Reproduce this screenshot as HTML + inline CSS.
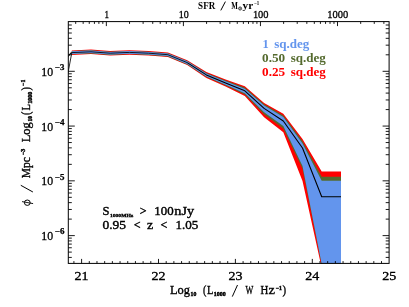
<!DOCTYPE html><html><head><meta charset="utf-8"><style>html,body{margin:0;padding:0;background:#fff}svg{display:block}text{font-family:"Liberation Serif",serif;fill:#000}</style></head><body>
<svg width="409" height="307" viewBox="0 0 409 307">
<rect width="409" height="307" fill="#fff"/>
<filter id="bl" x="0" y="0" width="409" height="307" filterUnits="userSpaceOnUse"><feGaussianBlur stdDeviation="0.45"/></filter><g filter="url(#bl)">
<defs><clipPath id="c"><rect x="68.3" y="21.6" width="320.8" height="241.8"/></clipPath></defs>
<g clip-path="url(#c)">
<polygon fill="#ff0000" points="71.8,50.5 91.0,49.6 110.2,51.1 129.5,50.2 148.7,51.1 167.9,52.6 187.2,60.3 206.4,72.1 225.6,79.6 244.8,86.3 264.1,103.0 283.3,113.8 302.5,139.0 321.7,171.6 341.0,171.6 341.0,268.0 321.7,268.0 302.5,181.0 283.3,132.2 264.1,117.2 244.8,96.0 225.6,86.6 206.4,77.9 187.2,65.1 167.9,57.1 148.7,55.6 129.5,54.8 110.2,55.6 91.0,54.1 71.8,55.0"/>
<polygon fill="#556b2f" points="71.8,51.1 91.0,50.2 110.2,51.7 129.5,50.9 148.7,51.7 167.9,53.2 187.2,60.9 206.4,72.9 225.6,80.6 244.8,87.6 264.1,104.2 283.3,115.5 302.5,141.3 321.7,176.7 341.0,176.7 341.0,265.0 321.7,265.0 302.5,168.5 283.3,128.5 264.1,114.2 244.8,94.5 225.6,85.5 206.4,77.0 187.2,64.4 167.9,56.4 148.7,54.9 129.5,54.0 110.2,54.9 91.0,53.4 71.8,54.2"/>
<polygon fill="#6495ed" points="71.8,51.3 91.0,50.5 110.2,51.9 129.5,51.1 148.7,51.9 167.9,53.4 187.2,61.2 206.4,73.4 225.6,81.3 244.8,88.8 264.1,105.4 283.3,117.1 302.5,143.5 321.7,180.7 341.0,180.7 341.0,264.0 321.7,264.0 302.5,166.0 283.3,126.1 264.1,112.3 244.8,93.3 225.6,84.7 206.4,76.4 187.2,64.0 167.9,56.0 148.7,54.5 129.5,53.7 110.2,54.5 91.0,53.1 71.8,53.9"/>
<polyline fill="none" stroke="#000" stroke-width="0.85" stroke-linejoin="round" points="68.0,73.0 71.8,52.6 91.0,51.8 110.2,53.2 129.5,52.4 148.7,53.2 167.9,54.7 187.2,62.6"/>
<polyline fill="none" stroke="#000" stroke-width="1.1" stroke-linejoin="round" points="187.2,62.6 206.4,74.9 225.6,83.0 244.8,90.8 264.1,108.4 283.3,121.0 302.5,148.0 321.7,196.8 341.0,196.8"/>
<line x1="67.5" y1="56.8" x2="71.6" y2="52.4" stroke="#111" stroke-width="1.2"/>
</g>
<g stroke="#000" stroke-width="0.9" fill="none"><rect x="68.3" y="21.6" width="320.8" height="241.8" fill="none" stroke="#000" stroke-width="1"/><line x1="73.91" y1="263.4" x2="73.91" y2="261.1"/><line x1="81.60" y1="263.4" x2="81.60" y2="258.9"/><line x1="89.29" y1="263.4" x2="89.29" y2="261.1"/><line x1="96.98" y1="263.4" x2="96.98" y2="261.1"/><line x1="104.67" y1="263.4" x2="104.67" y2="261.1"/><line x1="112.36" y1="263.4" x2="112.36" y2="261.1"/><line x1="120.05" y1="263.4" x2="120.05" y2="261.1"/><line x1="127.74" y1="263.4" x2="127.74" y2="261.1"/><line x1="135.43" y1="263.4" x2="135.43" y2="261.1"/><line x1="143.12" y1="263.4" x2="143.12" y2="261.1"/><line x1="150.81" y1="263.4" x2="150.81" y2="261.1"/><line x1="158.50" y1="263.4" x2="158.50" y2="258.9"/><line x1="166.19" y1="263.4" x2="166.19" y2="261.1"/><line x1="173.88" y1="263.4" x2="173.88" y2="261.1"/><line x1="181.57" y1="263.4" x2="181.57" y2="261.1"/><line x1="189.26" y1="263.4" x2="189.26" y2="261.1"/><line x1="196.95" y1="263.4" x2="196.95" y2="261.1"/><line x1="204.64" y1="263.4" x2="204.64" y2="261.1"/><line x1="212.33" y1="263.4" x2="212.33" y2="261.1"/><line x1="220.02" y1="263.4" x2="220.02" y2="261.1"/><line x1="227.71" y1="263.4" x2="227.71" y2="261.1"/><line x1="235.40" y1="263.4" x2="235.40" y2="258.9"/><line x1="243.09" y1="263.4" x2="243.09" y2="261.1"/><line x1="250.78" y1="263.4" x2="250.78" y2="261.1"/><line x1="258.47" y1="263.4" x2="258.47" y2="261.1"/><line x1="266.16" y1="263.4" x2="266.16" y2="261.1"/><line x1="273.85" y1="263.4" x2="273.85" y2="261.1"/><line x1="281.54" y1="263.4" x2="281.54" y2="261.1"/><line x1="289.23" y1="263.4" x2="289.23" y2="261.1"/><line x1="296.92" y1="263.4" x2="296.92" y2="261.1"/><line x1="304.61" y1="263.4" x2="304.61" y2="261.1"/><line x1="312.30" y1="263.4" x2="312.30" y2="258.9"/><line x1="319.99" y1="263.4" x2="319.99" y2="261.1"/><line x1="327.68" y1="263.4" x2="327.68" y2="261.1"/><line x1="335.37" y1="263.4" x2="335.37" y2="261.1"/><line x1="343.06" y1="263.4" x2="343.06" y2="261.1"/><line x1="350.75" y1="263.4" x2="350.75" y2="261.1"/><line x1="358.44" y1="263.4" x2="358.44" y2="261.1"/><line x1="366.13" y1="263.4" x2="366.13" y2="261.1"/><line x1="373.82" y1="263.4" x2="373.82" y2="261.1"/><line x1="381.51" y1="263.4" x2="381.51" y2="261.1"/><line x1="75.69" y1="21.6" x2="75.69" y2="23.9"/><line x1="83.16" y1="21.6" x2="83.16" y2="23.9"/><line x1="89.26" y1="21.6" x2="89.26" y2="23.9"/><line x1="94.41" y1="21.6" x2="94.41" y2="23.9"/><line x1="98.88" y1="21.6" x2="98.88" y2="23.9"/><line x1="102.82" y1="21.6" x2="102.82" y2="23.9"/><line x1="106.35" y1="21.6" x2="106.35" y2="26.1"/><line x1="129.54" y1="21.6" x2="129.54" y2="23.9"/><line x1="143.11" y1="21.6" x2="143.11" y2="23.9"/><line x1="152.74" y1="21.6" x2="152.74" y2="23.9"/><line x1="160.21" y1="21.6" x2="160.21" y2="23.9"/><line x1="166.31" y1="21.6" x2="166.31" y2="23.9"/><line x1="171.46" y1="21.6" x2="171.46" y2="23.9"/><line x1="175.93" y1="21.6" x2="175.93" y2="23.9"/><line x1="179.87" y1="21.6" x2="179.87" y2="23.9"/><line x1="183.40" y1="21.6" x2="183.40" y2="26.1"/><line x1="206.59" y1="21.6" x2="206.59" y2="23.9"/><line x1="220.16" y1="21.6" x2="220.16" y2="23.9"/><line x1="229.79" y1="21.6" x2="229.79" y2="23.9"/><line x1="237.26" y1="21.6" x2="237.26" y2="23.9"/><line x1="243.36" y1="21.6" x2="243.36" y2="23.9"/><line x1="248.51" y1="21.6" x2="248.51" y2="23.9"/><line x1="252.98" y1="21.6" x2="252.98" y2="23.9"/><line x1="256.92" y1="21.6" x2="256.92" y2="23.9"/><line x1="260.45" y1="21.6" x2="260.45" y2="26.1"/><line x1="283.64" y1="21.6" x2="283.64" y2="23.9"/><line x1="297.21" y1="21.6" x2="297.21" y2="23.9"/><line x1="306.84" y1="21.6" x2="306.84" y2="23.9"/><line x1="314.31" y1="21.6" x2="314.31" y2="23.9"/><line x1="320.41" y1="21.6" x2="320.41" y2="23.9"/><line x1="325.56" y1="21.6" x2="325.56" y2="23.9"/><line x1="330.03" y1="21.6" x2="330.03" y2="23.9"/><line x1="333.97" y1="21.6" x2="333.97" y2="23.9"/><line x1="337.50" y1="21.6" x2="337.50" y2="26.1"/><line x1="360.69" y1="21.6" x2="360.69" y2="23.9"/><line x1="374.26" y1="21.6" x2="374.26" y2="23.9"/><line x1="383.89" y1="21.6" x2="383.89" y2="23.9"/><line x1="68.3" y1="257.41" x2="71.8" y2="257.41"/><line x1="389.1" y1="257.41" x2="385.7" y2="257.41"/><line x1="68.3" y1="252.10" x2="71.8" y2="252.10"/><line x1="389.1" y1="252.10" x2="385.7" y2="252.10"/><line x1="68.3" y1="247.76" x2="71.8" y2="247.76"/><line x1="389.1" y1="247.76" x2="385.7" y2="247.76"/><line x1="68.3" y1="244.09" x2="71.8" y2="244.09"/><line x1="389.1" y1="244.09" x2="385.7" y2="244.09"/><line x1="68.3" y1="240.92" x2="71.8" y2="240.92"/><line x1="389.1" y1="240.92" x2="385.7" y2="240.92"/><line x1="68.3" y1="238.12" x2="71.8" y2="238.12"/><line x1="389.1" y1="238.12" x2="385.7" y2="238.12"/><line x1="68.3" y1="235.61" x2="74.8" y2="235.61"/><line x1="389.1" y1="235.61" x2="382.6" y2="235.61"/><line x1="68.3" y1="219.12" x2="71.8" y2="219.12"/><line x1="389.1" y1="219.12" x2="385.7" y2="219.12"/><line x1="68.3" y1="209.48" x2="71.8" y2="209.48"/><line x1="389.1" y1="209.48" x2="385.7" y2="209.48"/><line x1="68.3" y1="202.64" x2="71.8" y2="202.64"/><line x1="389.1" y1="202.64" x2="385.7" y2="202.64"/><line x1="68.3" y1="197.33" x2="71.8" y2="197.33"/><line x1="389.1" y1="197.33" x2="385.7" y2="197.33"/><line x1="68.3" y1="192.99" x2="71.8" y2="192.99"/><line x1="389.1" y1="192.99" x2="385.7" y2="192.99"/><line x1="68.3" y1="189.32" x2="71.8" y2="189.32"/><line x1="389.1" y1="189.32" x2="385.7" y2="189.32"/><line x1="68.3" y1="186.15" x2="71.8" y2="186.15"/><line x1="389.1" y1="186.15" x2="385.7" y2="186.15"/><line x1="68.3" y1="183.35" x2="71.8" y2="183.35"/><line x1="389.1" y1="183.35" x2="385.7" y2="183.35"/><line x1="68.3" y1="180.84" x2="74.8" y2="180.84"/><line x1="389.1" y1="180.84" x2="382.6" y2="180.84"/><line x1="68.3" y1="164.35" x2="71.8" y2="164.35"/><line x1="389.1" y1="164.35" x2="385.7" y2="164.35"/><line x1="68.3" y1="154.71" x2="71.8" y2="154.71"/><line x1="389.1" y1="154.71" x2="385.7" y2="154.71"/><line x1="68.3" y1="147.87" x2="71.8" y2="147.87"/><line x1="389.1" y1="147.87" x2="385.7" y2="147.87"/><line x1="68.3" y1="142.56" x2="71.8" y2="142.56"/><line x1="389.1" y1="142.56" x2="385.7" y2="142.56"/><line x1="68.3" y1="138.22" x2="71.8" y2="138.22"/><line x1="389.1" y1="138.22" x2="385.7" y2="138.22"/><line x1="68.3" y1="134.55" x2="71.8" y2="134.55"/><line x1="389.1" y1="134.55" x2="385.7" y2="134.55"/><line x1="68.3" y1="131.38" x2="71.8" y2="131.38"/><line x1="389.1" y1="131.38" x2="385.7" y2="131.38"/><line x1="68.3" y1="128.58" x2="71.8" y2="128.58"/><line x1="389.1" y1="128.58" x2="385.7" y2="128.58"/><line x1="68.3" y1="126.07" x2="74.8" y2="126.07"/><line x1="389.1" y1="126.07" x2="382.6" y2="126.07"/><line x1="68.3" y1="109.58" x2="71.8" y2="109.58"/><line x1="389.1" y1="109.58" x2="385.7" y2="109.58"/><line x1="68.3" y1="99.94" x2="71.8" y2="99.94"/><line x1="389.1" y1="99.94" x2="385.7" y2="99.94"/><line x1="68.3" y1="93.10" x2="71.8" y2="93.10"/><line x1="389.1" y1="93.10" x2="385.7" y2="93.10"/><line x1="68.3" y1="87.79" x2="71.8" y2="87.79"/><line x1="389.1" y1="87.79" x2="385.7" y2="87.79"/><line x1="68.3" y1="83.45" x2="71.8" y2="83.45"/><line x1="389.1" y1="83.45" x2="385.7" y2="83.45"/><line x1="68.3" y1="79.78" x2="71.8" y2="79.78"/><line x1="389.1" y1="79.78" x2="385.7" y2="79.78"/><line x1="68.3" y1="76.61" x2="71.8" y2="76.61"/><line x1="389.1" y1="76.61" x2="385.7" y2="76.61"/><line x1="68.3" y1="73.81" x2="71.8" y2="73.81"/><line x1="389.1" y1="73.81" x2="385.7" y2="73.81"/><line x1="68.3" y1="71.30" x2="74.8" y2="71.30"/><line x1="389.1" y1="71.30" x2="382.6" y2="71.30"/><line x1="68.3" y1="54.81" x2="71.8" y2="54.81"/><line x1="389.1" y1="54.81" x2="385.7" y2="54.81"/><line x1="68.3" y1="45.17" x2="71.8" y2="45.17"/><line x1="389.1" y1="45.17" x2="385.7" y2="45.17"/><line x1="68.3" y1="38.33" x2="71.8" y2="38.33"/><line x1="389.1" y1="38.33" x2="385.7" y2="38.33"/><line x1="68.3" y1="33.02" x2="71.8" y2="33.02"/><line x1="389.1" y1="33.02" x2="385.7" y2="33.02"/><line x1="68.3" y1="28.68" x2="71.8" y2="28.68"/><line x1="389.1" y1="28.68" x2="385.7" y2="28.68"/><line x1="68.3" y1="25.01" x2="71.8" y2="25.01"/><line x1="389.1" y1="25.01" x2="385.7" y2="25.01"/></g>
<text x="74.6" y="280.2" font-size="12.0" text-anchor="start" textLength="14.0" lengthAdjust="spacingAndGlyphs" stroke="#000" stroke-width="0.35">21</text><text x="151.5" y="280.2" font-size="12.0" text-anchor="start" textLength="14.0" lengthAdjust="spacingAndGlyphs" stroke="#000" stroke-width="0.35">22</text><text x="228.4" y="280.2" font-size="12.0" text-anchor="start" textLength="14.0" lengthAdjust="spacingAndGlyphs" stroke="#000" stroke-width="0.35">23</text><text x="305.3" y="280.2" font-size="12.0" text-anchor="start" textLength="14.0" lengthAdjust="spacingAndGlyphs" stroke="#000" stroke-width="0.35">24</text><text x="382.2" y="280.2" font-size="12.0" text-anchor="start" textLength="14.0" lengthAdjust="spacingAndGlyphs" stroke="#000" stroke-width="0.35">25</text><text x="104.4" y="17.8" font-size="10.8" text-anchor="start" textLength="4.5" lengthAdjust="spacingAndGlyphs" stroke="#000" stroke-width="0.3">1</text><text x="178.7" y="17.8" font-size="10.8" text-anchor="start" textLength="10.0" lengthAdjust="spacingAndGlyphs" stroke="#000" stroke-width="0.3">10</text><text x="252.9" y="17.8" font-size="10.8" text-anchor="start" textLength="15.7" lengthAdjust="spacingAndGlyphs" stroke="#000" stroke-width="0.3">100</text><text x="327.3" y="17.8" font-size="10.8" text-anchor="start" textLength="21.0" lengthAdjust="spacingAndGlyphs" stroke="#000" stroke-width="0.3">1000</text><text x="41.3" y="75.8" font-size="12.5" text-anchor="start" textLength="11.8" lengthAdjust="spacingAndGlyphs" stroke="#000" stroke-width="0.3">10</text><text x="54.8" y="70.0" font-size="7.4" text-anchor="start" textLength="9.6" lengthAdjust="spacingAndGlyphs" font-weight="bold" stroke="#000" stroke-width="0.25">&#8722;3</text><text x="41.3" y="130.6" font-size="12.5" text-anchor="start" textLength="11.8" lengthAdjust="spacingAndGlyphs" stroke="#000" stroke-width="0.3">10</text><text x="54.8" y="124.8" font-size="7.4" text-anchor="start" textLength="9.6" lengthAdjust="spacingAndGlyphs" font-weight="bold" stroke="#000" stroke-width="0.25">&#8722;4</text><text x="41.3" y="185.3" font-size="12.5" text-anchor="start" textLength="11.8" lengthAdjust="spacingAndGlyphs" stroke="#000" stroke-width="0.3">10</text><text x="54.8" y="179.5" font-size="7.4" text-anchor="start" textLength="9.6" lengthAdjust="spacingAndGlyphs" font-weight="bold" stroke="#000" stroke-width="0.25">&#8722;5</text><text x="41.3" y="240.1" font-size="12.5" text-anchor="start" textLength="11.8" lengthAdjust="spacingAndGlyphs" stroke="#000" stroke-width="0.3">10</text><text x="54.8" y="234.3" font-size="7.4" text-anchor="start" textLength="9.6" lengthAdjust="spacingAndGlyphs" font-weight="bold" stroke="#000" stroke-width="0.25">&#8722;6</text><text x="198.1" y="8.8" font-size="9.5" text-anchor="start" textLength="17.1" lengthAdjust="spacingAndGlyphs" font-weight="bold">SFR</text><line x1="220.8" y1="10.4" x2="225.4" y2="1.6" stroke="#000" stroke-width="1"/><text x="231.3" y="8.8" font-size="9.5" text-anchor="start" textLength="6.6" lengthAdjust="spacingAndGlyphs" font-weight="bold">M</text><circle cx="240.1" cy="8.5" r="1.5" fill="none" stroke="#000" stroke-width="0.8"/><circle cx="240.1" cy="8.5" r="0.5" fill="#000"/><text x="242.6" y="8.8" font-size="9.5" text-anchor="start" textLength="10.6" lengthAdjust="spacingAndGlyphs" font-weight="bold">yr</text><text x="254.1" y="4.8" font-size="5.5" text-anchor="start" textLength="5.2" lengthAdjust="spacingAndGlyphs" font-weight="bold">&#8722;1</text><text x="169.9" y="293.9" font-size="12.0" text-anchor="start" textLength="20.0" lengthAdjust="spacingAndGlyphs" stroke="#000" stroke-width="0.35">Log</text><text x="190.6" y="295.7" font-size="6.0" text-anchor="start" textLength="5.8" lengthAdjust="spacingAndGlyphs" font-weight="bold" stroke="#000" stroke-width="0.45">10</text><text x="202.9" y="293.9" font-size="12.0" text-anchor="start" textLength="3.4" lengthAdjust="spacingAndGlyphs" stroke="#000" stroke-width="0.35">(</text><text x="207.0" y="293.9" font-size="12.0" text-anchor="start" textLength="6.4" lengthAdjust="spacingAndGlyphs" stroke="#000" stroke-width="0.35">L</text><text x="213.8" y="295.7" font-size="6.0" text-anchor="start" textLength="12.0" lengthAdjust="spacingAndGlyphs" font-weight="bold" stroke="#000" stroke-width="0.45">1000</text><line x1="232.3" y1="296.6" x2="237.5" y2="285.0" stroke="#000" stroke-width="1"/><text x="245.5" y="293.9" font-size="12.0" text-anchor="start" textLength="7.8" lengthAdjust="spacingAndGlyphs" stroke="#000" stroke-width="0.35">W</text><text x="260.4" y="293.9" font-size="12.0" text-anchor="start" textLength="7.8" lengthAdjust="spacingAndGlyphs" stroke="#000" stroke-width="0.35">H</text><text x="268.4" y="293.9" font-size="12.0" text-anchor="start" textLength="6.4" lengthAdjust="spacingAndGlyphs" stroke="#000" stroke-width="0.35">z</text><text x="275.8" y="290.2" font-size="5.8" text-anchor="start" textLength="6.2" lengthAdjust="spacingAndGlyphs" font-weight="bold" stroke="#000" stroke-width="0.45">&#8722;1</text><text x="282.6" y="293.9" font-size="12.0" text-anchor="start" textLength="3.6" lengthAdjust="spacingAndGlyphs" stroke="#000" stroke-width="0.35">)</text><g transform="translate(30.3,206) rotate(-90)"><ellipse cx="3.3" cy="-3.0" rx="2.7" ry="2.9" fill="none" stroke="#000" stroke-width="1"/><line x1="2.4" y1="2.8" x2="4.4" y2="-8.3" stroke="#000" stroke-width="0.9"/><line x1="14.0" y1="2.6" x2="20.7" y2="-9.5" stroke="#000" stroke-width="1"/><text x="27.7" y="0.0" font-size="12.0" text-anchor="start" textLength="21.1" lengthAdjust="spacingAndGlyphs" stroke="#000" stroke-width="0.35">Mpc</text><text x="51.0" y="-5.3" font-size="5.6" text-anchor="start" textLength="6.1" lengthAdjust="spacingAndGlyphs" font-weight="bold" stroke="#000" stroke-width="0.45">&#8722;3</text><text x="63.7" y="0.0" font-size="12.0" text-anchor="start" textLength="20.0" lengthAdjust="spacingAndGlyphs" stroke="#000" stroke-width="0.35">Log</text><text x="84.6" y="1.7" font-size="6.0" text-anchor="start" textLength="5.4" lengthAdjust="spacingAndGlyphs" font-weight="bold" stroke="#000" stroke-width="0.45">10</text><text x="91.1" y="0.0" font-size="12.0" text-anchor="start" textLength="3.4" lengthAdjust="spacingAndGlyphs" stroke="#000" stroke-width="0.35">(</text><text x="95.4" y="0.0" font-size="12.0" text-anchor="start" textLength="6.4" lengthAdjust="spacingAndGlyphs" stroke="#000" stroke-width="0.35">L</text><text x="102.3" y="1.7" font-size="6.0" text-anchor="start" textLength="11.9" lengthAdjust="spacingAndGlyphs" font-weight="bold" stroke="#000" stroke-width="0.45">1000</text><text x="115.4" y="0.0" font-size="12.0" text-anchor="start" textLength="3.4" lengthAdjust="spacingAndGlyphs" stroke="#000" stroke-width="0.35">)</text><text x="120.1" y="-5.3" font-size="5.6" text-anchor="start" textLength="6.2" lengthAdjust="spacingAndGlyphs" font-weight="bold" stroke="#000" stroke-width="0.45">&#8722;1</text></g><text x="262.4" y="47.6" font-size="12.5" text-anchor="start" font-weight="bold" style="fill:#6495ed">1</text><text x="274.2" y="47.6" font-size="12.5" text-anchor="start" textLength="35.2" lengthAdjust="spacingAndGlyphs" font-weight="bold" style="fill:#6495ed">sq.deg</text><text x="262.1" y="61.5" font-size="12.5" text-anchor="start" textLength="23.1" lengthAdjust="spacingAndGlyphs" font-weight="bold" style="fill:#556b2f">0.50</text><text x="290.7" y="61.5" font-size="12.5" text-anchor="start" textLength="35.2" lengthAdjust="spacingAndGlyphs" font-weight="bold" style="fill:#556b2f">sq.deg</text><text x="262.1" y="75.8" font-size="12.5" text-anchor="start" textLength="23.1" lengthAdjust="spacingAndGlyphs" font-weight="bold" style="fill:#ff0000">0.25</text><text x="290.7" y="75.8" font-size="12.5" text-anchor="start" textLength="35.2" lengthAdjust="spacingAndGlyphs" font-weight="bold" style="fill:#ff0000">sq.deg</text><text x="102.4" y="215.3" font-size="12.5" text-anchor="start" textLength="7.0" lengthAdjust="spacingAndGlyphs" stroke="#000" stroke-width="0.4">S</text><text x="110.0" y="216.5" font-size="4.6" text-anchor="start" textLength="23.2" lengthAdjust="spacingAndGlyphs" font-weight="bold" stroke="#000" stroke-width="0.3">1000MHz</text><text x="139.8" y="215.3" font-size="12.5" text-anchor="start" textLength="6.8" lengthAdjust="spacingAndGlyphs" stroke="#000" stroke-width="0.4">&gt;</text><text x="154.3" y="215.3" font-size="12.5" text-anchor="start" textLength="19.3" lengthAdjust="spacingAndGlyphs" stroke="#000" stroke-width="0.4">100</text><text x="174.3" y="215.3" font-size="12.5" text-anchor="start" textLength="19.8" lengthAdjust="spacingAndGlyphs" stroke="#000" stroke-width="0.4">nJy</text><text x="102.5" y="229.0" font-size="12.5" text-anchor="start" textLength="23.6" lengthAdjust="spacingAndGlyphs" stroke="#000" stroke-width="0.4">0.95</text><text x="133.8" y="229.0" font-size="12.5" text-anchor="start" textLength="6.8" lengthAdjust="spacingAndGlyphs" stroke="#000" stroke-width="0.4">&lt;</text><text x="147.0" y="229.0" font-size="12.5" text-anchor="start" textLength="6.2" lengthAdjust="spacingAndGlyphs" stroke="#000" stroke-width="0.4">z</text><text x="160.4" y="229.0" font-size="12.5" text-anchor="start" textLength="6.8" lengthAdjust="spacingAndGlyphs" stroke="#000" stroke-width="0.4">&lt;</text><text x="175.4" y="229.0" font-size="12.5" text-anchor="start" textLength="22.9" lengthAdjust="spacingAndGlyphs" stroke="#000" stroke-width="0.4">1.05</text>
</g></svg></body></html>
